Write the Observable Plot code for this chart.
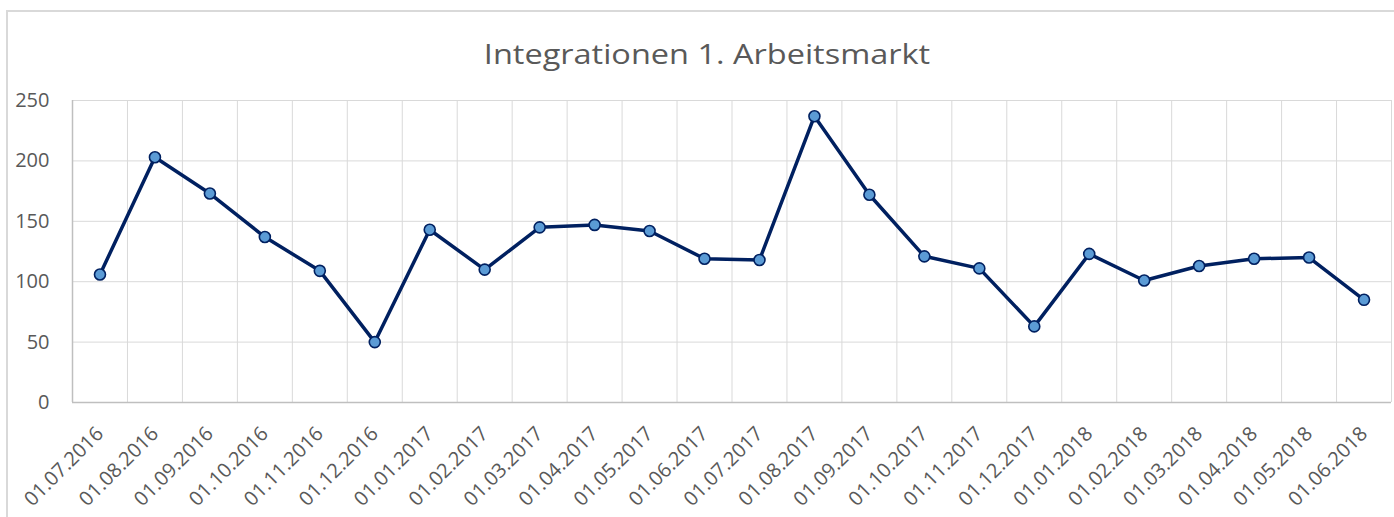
<!DOCTYPE html>
<html>
<head>
<meta charset="utf-8">
<script src="https://cdn.jsdelivr.net/npm/d3@7"></script>
<script src="https://cdn.jsdelivr.net/npm/@observablehq/plot@0.6"></script>
<style>
  html, body { margin: 0; padding: 0; background: #fff; }
  #wrap { position: relative; width: 1394px; height: 517px; overflow: hidden; font-family: "Open Sans", sans-serif; }
  #frame { position: absolute; left: 6px; top: 10px; width: 1400px; height: 520px; box-sizing: border-box;
           border-left: 2px solid #d9d9d9; border-top: 2px solid #d9d9d9; }
  #title { position: absolute; left: 0; width: 1414px; top: 39px; line-height: 28px; text-align: center;
           font-size: 28px; color: #595959; transform: scaleX(1.16); white-space: nowrap; }
  #chart { position: absolute; left: 0; top: 0; }
</style>
</head>
<body>
<div id="wrap">
  <div id="frame"></div>
  <div id="chart"></div>
  <div id="title">Integrationen 1. Arbeitsmarkt</div>
</div>
<script>
const dates = ["01.07.2016","01.08.2016","01.09.2016","01.10.2016","01.11.2016","01.12.2016",
               "01.01.2017","01.02.2017","01.03.2017","01.04.2017","01.05.2017","01.06.2017",
               "01.07.2017","01.08.2017","01.09.2017","01.10.2017","01.11.2017","01.12.2017",
               "01.01.2018","01.02.2018","01.03.2018","01.04.2018","01.05.2018","01.06.2018"];
const values = [106, 203, 173, 137, 109, 50, 143, 110, 145, 147, 142, 119,
                118, 237, 172, 121, 111, 63, 123, 101, 113, 119, 120, 85];
const yTicks = [0, 50, 100, 150, 200, 250];

const table = dates.map((d, i) => ({i, date: d, value: values[i]}));
const centers = dates.map((d, i) => i + 0.5);
const bounds = d3.range(dates.length + 1);

const chart = Plot.plot({
  width: 1394,
  height: 517,
  marginLeft: 72,
  marginRight: 3,
  marginTop: 100,
  marginBottom: 115,
  style: {fontFamily: "Open Sans", fontSize: "20px", color: "#595959", background: "transparent", overflow: "visible"},
  x: {type: "linear", domain: [0, dates.length], axis: null},
  y: {domain: [0, 250], axis: null},
  marks: [
    Plot.ruleY(yTicks, {stroke: "#d9d9d9", strokeWidth: 1}),
    Plot.ruleX(bounds, {stroke: "#d9d9d9", strokeWidth: 1}),
    Plot.ruleY([0], {stroke: "#bfbfbf", strokeWidth: 1.5}),
    Plot.ruleX([0], {stroke: "#bfbfbf", strokeWidth: 1.5}),
    Plot.axisY(yTicks, {tickSize: 0, tickPadding: 23, fontSize: 20, fill: "#595959", label: null}),
    Plot.axisX(centers, {tickSize: 0, tickPadding: 28, tickRotate: -45, fontSize: 20, fill: "#595959", label: null,
                         tickFormat: v => dates[Math.round(v - 0.5)]}),
    Plot.line(table, {x: d => d.i + 0.5, y: "value", stroke: "#002060", strokeWidth: 3.5}),
    Plot.dot(table, {x: d => d.i + 0.5, y: "value", r: 5.5, fill: "#5b9bd5", stroke: "#002060", strokeWidth: 1.6})
  ]
});
document.getElementById("chart").appendChild(chart);
</script>
</body>
</html>
